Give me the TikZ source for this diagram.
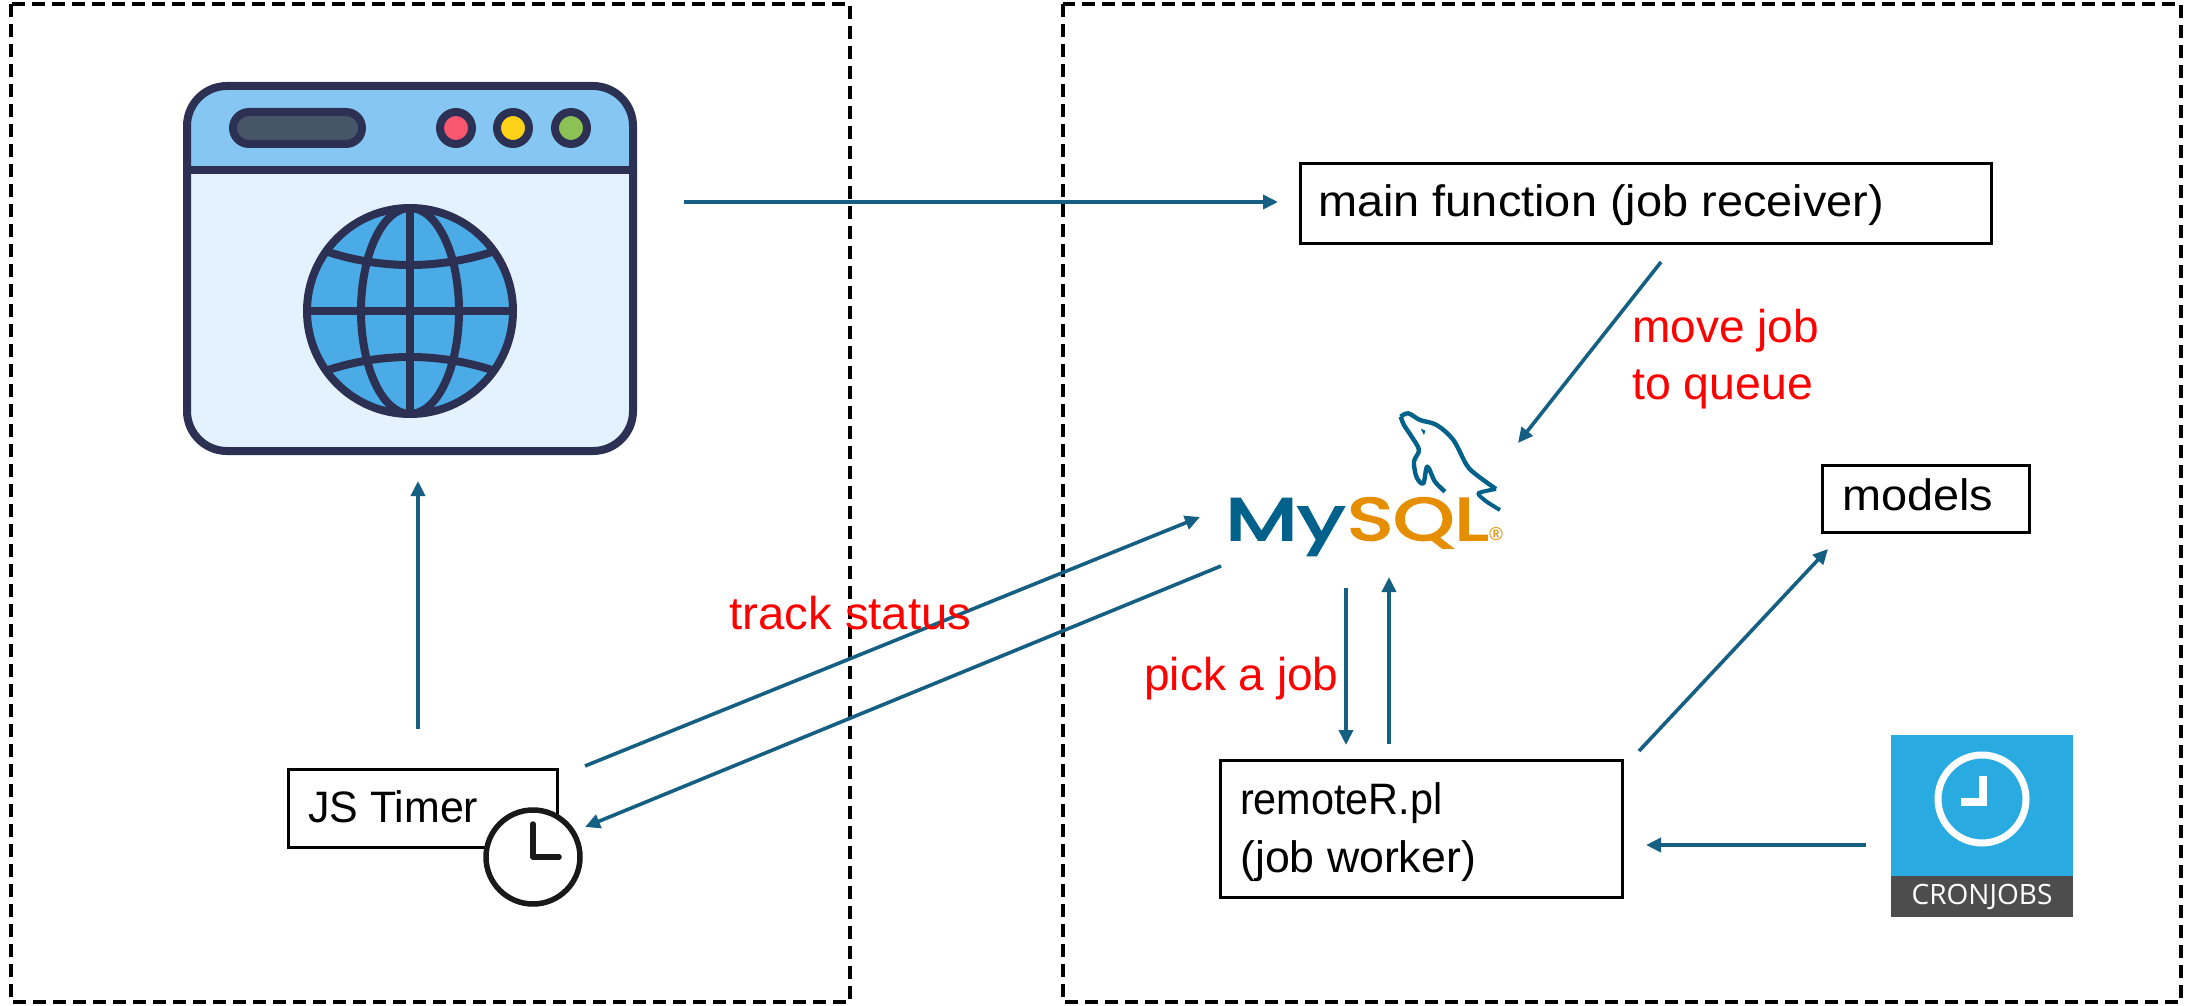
\documentclass[tikz,border=0pt]{standalone}
\usepackage{fontspec}
\setmainfont{Liberation Sans}
\newfontfamily\logofont[FakeBold=3]{Poppins}
\newfontfamily\cronfont{Open Sans}
\usetikzlibrary{arrows.meta}
\definecolor{arrowc}{HTML}{156082}
\definecolor{inkc}{HTML}{2C3154}
\definecolor{headc}{HTML}{85C7F2}
\definecolor{bodyc}{HTML}{E4F1FE}
\definecolor{globec}{HTML}{4AABE6}
\definecolor{pillc}{HTML}{475569}
\definecolor{mysqlb}{HTML}{00618A}
\definecolor{mysqlo}{HTML}{E48E00}
\definecolor{cronb}{HTML}{29ABE2}
\definecolor{crond}{HTML}{4D4D4D}
\definecolor{dotr}{HTML}{F9566F}
\definecolor{doty}{HTML}{FFD21A}
\definecolor{dotg}{HTML}{8BC155}
\tikzset{
  x=1pt,y=-1pt,
  conn/.style={draw=arrowc,line width=3.6pt,-{Triangle[length=15pt,width=14pt]}},
  textbox/.style={draw=black,line width=3.4pt,fill=white,inner sep=0pt,anchor=north west},
  zone/.style={draw=black,line width=3.6pt,dash pattern=on 13pt off 7pt},
  lab/.style={font=\fontsize{44}{44}\selectfont,anchor=base west,inner sep=0pt,text=black},
  redlab/.style={font=\fontsize{46}{46}\selectfont,anchor=base west,inner sep=0pt,text=red},
  ink/.style={draw=inkc,line width=8pt},
}
\begin{document}
\begin{tikzpicture}
\useasboundingbox (0,0) rectangle (2185,1006);
\fill[white] (0,0) rectangle (2185,1006);
% zones
\draw[zone] (11,4) rectangle (850,1002);
\draw[zone] (1063,4) rectangle (2181,1002);
% browser icon
\fill[bodyc,rounded corners=40pt] (187,86) rectangle (633,451);
\fill[headc] (187,170) -- (187,126) arc[start angle=180,end angle=270,radius=40] -- (593,86) arc[start angle=270,end angle=360,radius=40] -- (633,170) -- cycle;
\draw[ink,rounded corners=40pt] (187,86) rectangle (633,451);
\draw[ink] (185,170) -- (635,170);
\draw[ink,fill=pillc,rounded corners=16pt] (233,112) rectangle (362,144);
\draw[ink,fill=dotr] (456,128) circle[radius=16];
\draw[ink,fill=doty] (513,128) circle[radius=16];
\draw[ink,fill=dotg] (571,128) circle[radius=16];
\fill[globec] (410,311) circle[radius=103];
\begin{scope}
\clip (410,311) circle[radius=103];
\draw[ink] (410,311) ellipse[x radius=49,y radius=103];
\draw[ink] (410,208) -- (410,414);
\draw[ink] (307,311) -- (513,311);
\draw[ink] (322,250) .. controls (380,270) and (440,270) .. (498,250);
\draw[ink] (322,372) .. controls (380,352) and (440,352) .. (498,372);
\end{scope}
\draw[ink] (410,311) circle[radius=103];
% boxes
\node[textbox,minimum width=691pt,minimum height=80pt] (main) at (1299,162) {};
\node[lab,xscale=1.066] (mainl) at (1318,216) {main function (job receiver)};
\node[textbox,minimum width=207pt,minimum height=67pt] (models) at (1821,464) {};
\node[lab,xscale=1.065] (modelsl) at (1842,510) {models};
\node[textbox,minimum width=402pt,minimum height=137pt] (worker) at (1219,759) {};
\node[lab,xscale=0.94] (workera) at (1240,814) {remoteR.pl};
\node[lab,xscale=1.015] (workerb) at (1240,872) {(job worker)};
\node[textbox,minimum width=269pt,minimum height=78pt] (timer) at (287,768) {};
\node[lab,xscale=0.975] (timerl) at (308,822) {JS Timer};
% timer clock
\draw[draw=black!90,line width=5.5pt,fill=white] (533,857) circle[radius=47];
\draw[black!90,line width=5.5pt,line cap=round,line join=round] (533,824) -- (533,857) -- (559,857);
% MySQL logo
\node[inner sep=0pt,anchor=base west,text=mysqlb,font=\logofont\fontsize{60}{60}\selectfont,xscale=1.4] (mysqlA) at (1225,540) {My};
\node[inner sep=0pt,anchor=base west,text=mysqlo,font=\logofont\fontsize{60}{60}\selectfont,xscale=1.3] (mysqlB) at (1347,540) {SQL};
\node[inner sep=0pt,text=mysqlo,font=\cronfont\fontsize{18}{18}\selectfont] (reg) at (1496,534) {®};
\begin{scope}[shift={(1200,390)},x=0.3333pt,y=-0.3333pt]
\draw[mysqlb,line width=4.4pt,line join=round]
  plot[smooth,tension=0.55] coordinates {(602,80) (625,70) (660,90) (710,105) (760,150) (800,225) (830,255) (888,297)};
\draw[mysqlb,line width=4.4pt,line join=round]
  plot[smooth,tension=0.55] coordinates {(602,80) (612,105) (635,140) (657,180) (642,215) (650,262) (670,280) (682,230) (705,275) (735,305)};
\draw[mysqlb,line width=4pt,line join=round]
  plot[smooth,tension=0.4] coordinates {(888,297) (835,310) (860,335) (900,360)};
\fill[mysqlb] (662,116) -- (676,122) -- (672,135) -- cycle;
\end{scope}
% cron icon
\fill[cronb] (1891,735) rectangle (2073,876);
\fill[crond] (1891,876) rectangle (2073,917);
\draw[white,line width=7pt] (1982,799) circle[radius=44];
\draw[white,line width=7.5pt] (1983,776) -- (1983,802) -- (1961,802);
\node[inner sep=0pt,text=white,font=\cronfont\fontsize{28}{28}\selectfont] (cronl) at (1982,897) {CRONJOBS};
% anchors for free ends
\coordinate (a1s) at (684,202);
\coordinate (a1e) at (1278,202);
\coordinate (a2s) at (1661,262);
\coordinate (a2e) at (1518,443);
\coordinate (a3s) at (418,729);
\coordinate (a3e) at (418,481);
\coordinate (a4s) at (585,766);
\coordinate (a4e) at (1200,517);
\coordinate (a5s) at (1221,566);
\coordinate (a5e) at (585,827);
\coordinate (a6s) at (1346,588);
\coordinate (a6e) at (1346,745);
\coordinate (a7s) at (1389,744);
\coordinate (a7e) at (1389,577);
\coordinate (a8s) at (1639,751);
\coordinate (a8e) at (1828,549);
\coordinate (a9s) at (1866,845);
\coordinate (a9e) at (1646,845);
\foreach \p in {1,...,9} {\draw[conn] (a\p s) -- (a\p e);}
% labels
\node[redlab] (l1) at (1632,342) {move job};
\node[redlab,xscale=1.01] (l2) at (1632,399) {to queue};
\node[redlab] (l3) at (1144,690) {pick a job};
\node[redlab,xscale=1.03] (l4) at (729,629) {track status};
\end{tikzpicture}
\end{document}
